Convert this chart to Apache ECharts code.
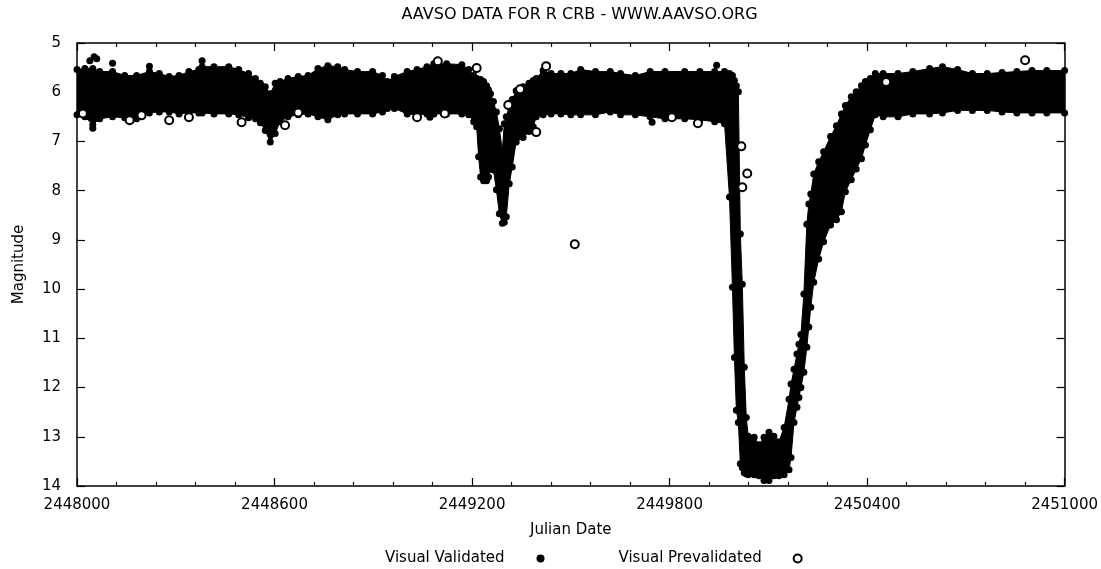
<!DOCTYPE html>
<html><head><meta charset="utf-8">
<script src="https://cdn.jsdelivr.net/npm/echarts@6/dist/echarts.min.js"></script>
<style>html,body{margin:0;padding:0;background:#fff}#c{width:1101px;height:569px}</style>
</head><body><div id="c"></div>
<script>
const chartTitle = 'AAVSO DATA FOR R CRB - WWW.AAVSO.ORG';
const xName = 'Julian Date';
const yName = 'Magnitude';
const seriesNames = ['Visual Validated', 'Visual Prevalidated'];
const xMin = 2448000, xMax = 2451000, xStep = 600;
const yMin = 5, yMax = 14, yStep = 1;

// Envelope of the dense observation cloud: Julian date, brightest and faintest magnitude seen
const bandJD = [
  2448000, 2448024, 2448048, 2448069, 2448108, 2448145, 2448181, 2448220, 2448250, 2448280,
  2448310, 2448340, 2448370, 2448380, 2448416, 2448461, 2448491, 2448521, 2448542, 2448557,
  2448572, 2448587, 2448602, 2448617, 2448641, 2448672, 2448702, 2448732, 2448762, 2448792,
  2448813, 2448852, 2448898, 2448928, 2448943, 2448964, 2449003, 2449033, 2449063, 2449084,
  2449123, 2449169, 2449190, 2449205, 2449214, 2449220, 2449226, 2449235, 2449244, 2449250,
  2449256, 2449265, 2449274, 2449283, 2449292, 2449298, 2449304, 2449313, 2449322, 2449334,
  2449355, 2449373, 2449386, 2449395, 2449416, 2449440, 2449470, 2449500, 2449530, 2449575,
  2449620, 2449651, 2449696, 2449741, 2449786, 2449846, 2449892, 2449937, 2449967, 2449982,
  2449991, 2449997, 2450003, 2450009, 2450015, 2450021, 2450027, 2450033, 2450039, 2450057,
  2450072, 2450087, 2450102, 2450117, 2450132, 2450148, 2450163, 2450169, 2450178, 2450187,
  2450193, 2450199, 2450208, 2450217, 2450223, 2450229, 2450238, 2450253, 2450268, 2450289,
  2450307, 2450322, 2450334, 2450352, 2450367, 2450383, 2450395, 2450410, 2450425, 2450449,
  2450494, 2450539, 2450590, 2450629, 2450675, 2450720, 2450765, 2450810, 2450855, 2450901,
  2450946, 2451000
];
const bandBright = [
  5.54, 5.52, 5.52, 5.58, 5.58, 5.66, 5.66, 5.58, 5.62, 5.68,
  5.66, 5.58, 5.54, 5.48, 5.48, 5.48, 5.54, 5.62, 5.72, 5.82,
  5.89, 6.03, 5.82, 5.78, 5.72, 5.68, 5.66, 5.52, 5.46, 5.48,
  5.54, 5.58, 5.58, 5.66, 5.78, 5.68, 5.58, 5.54, 5.48, 5.42,
  5.42, 5.44, 5.54, 5.66, 5.72, 5.74, 5.74, 5.78, 5.87, 5.95,
  6.03, 6.19, 6.40, 6.74, 7.19, 6.64, 6.50, 6.29, 6.15, 5.97,
  5.89, 5.82, 5.76, 5.72, 5.56, 5.62, 5.62, 5.62, 5.54, 5.58,
  5.58, 5.62, 5.66, 5.58, 5.58, 5.58, 5.58, 5.58, 5.58, 5.62,
  5.66, 5.76, 5.87, 5.99, 8.88, 9.90, 11.59, 12.61, 12.99, 13.01,
  13.16, 13.01, 12.91, 12.99, 13.10, 12.81, 12.24, 11.93, 11.63, 11.32,
  11.12, 10.92, 10.10, 8.68, 8.27, 8.07, 7.66, 7.41, 7.21, 6.90,
  6.68, 6.44, 6.27, 6.09, 5.99, 5.87, 5.78, 5.72, 5.62, 5.62,
  5.62, 5.58, 5.52, 5.48, 5.54, 5.62, 5.62, 5.60, 5.58, 5.56,
  5.56, 5.56
];
const bandFaint = [
  6.46, 6.50, 6.66, 6.54, 6.50, 6.52, 6.54, 6.42, 6.40, 6.40,
  6.44, 6.42, 6.42, 6.42, 6.44, 6.44, 6.46, 6.52, 6.54, 6.62,
  6.78, 7.01, 6.84, 6.60, 6.50, 6.46, 6.44, 6.50, 6.56, 6.46,
  6.44, 6.44, 6.44, 6.40, 6.33, 6.33, 6.44, 6.46, 6.44, 6.44,
  6.44, 6.44, 6.46, 6.60, 6.70, 7.31, 7.72, 7.80, 7.80, 7.72,
  7.56, 7.58, 7.98, 8.47, 8.66, 8.64, 8.53, 7.86, 7.52, 7.01,
  6.92, 6.80, 6.70, 6.50, 6.46, 6.44, 6.44, 6.46, 6.46, 6.46,
  6.40, 6.46, 6.46, 6.50, 6.54, 6.54, 6.56, 6.60, 6.64, 8.13,
  9.96, 11.39, 12.46, 12.71, 13.55, 13.63, 13.73, 13.75, 13.77, 13.77,
  13.79, 13.89, 13.89, 13.79, 13.79, 13.77, 13.67, 13.42, 12.71, 12.40,
  12.20, 12.00, 11.69, 11.18, 10.77, 10.37, 9.86, 9.39, 9.04, 8.70,
  8.59, 8.43, 8.02, 7.78, 7.56, 7.35, 7.07, 6.76, 6.46, 6.50,
  6.50, 6.44, 6.44, 6.42, 6.37, 6.37, 6.37, 6.40, 6.42, 6.42,
  6.42, 6.42
];
// Isolated validated observations standing out of the cloud
const validatedJD  = [2448039, 2448052, 2448060, 2448108, 2448220, 2448380, 2448048, 2449072, 2449747, 2449943];
const validatedMag = [5.36,    5.28,    5.32,    5.41,    5.47,    5.36,    6.73,    6.51,    6.61,    5.45];
// Prevalidated observations
const prevalJD  = [2449096, 2449214, 2449310, 2449346, 2449425, 2449512, 2450018, 2450036, 2450021,
                   2448018, 2448160, 2448196, 2448280, 2448340, 2448500, 2448632, 2448672,
                   2449033, 2449117, 2449395, 2449807, 2449886, 2450458, 2450880];
const prevalMag = [5.37,    5.51,    6.26,    5.94,    5.47,    9.09,    7.10,    7.65,    7.93,
                   6.43,    6.57,    6.47,    6.57,    6.51,    6.61,    6.67,    6.41,
                   6.51,    6.43,    6.81,    6.51,    6.63,    5.79,    5.35];

const FONT = 'DejaVu Sans';
const chart = echarts.init(document.getElementById('c'), null, {renderer: 'canvas'});

const validatedData = [];
for (let i = 0; i < bandJD.length; i++) {
  validatedData.push([bandJD[i], bandBright[i]]);
  validatedData.push([bandJD[i], bandFaint[i]]);
}
for (let i = 0; i < validatedJD.length; i++) validatedData.push([validatedJD[i], validatedMag[i]]);
const prevalData = prevalJD.map((d, i) => [d, prevalMag[i]]);

const tickStyle = {color: '#000', width: 1.2};
function xAxisDef(pos, labels) {
  return {
    type: 'value', position: pos, min: xMin, max: xMax, interval: xStep,
    axisLine: {show: true, onZero: false, lineStyle: {color: '#000', width: 1.5}},
    axisTick: {show: true, inside: true, length: 8, lineStyle: tickStyle},
    minorTick: {show: true, splitNumber: 5, length: 4, lineStyle: tickStyle},
    splitLine: {show: false},
    axisLabel: {show: labels, color: '#000', fontSize: 15, fontFamily: FONT, margin: 12,
      showMinLabel: true, showMaxLabel: true, formatter: v => String(v)},
    name: labels ? xName : '', nameLocation: 'middle', nameGap: 37,
    nameTextStyle: {color: '#000', fontSize: 15, fontFamily: FONT}
  };
}
function yAxisDef(pos, labels) {
  return {
    type: 'value', position: pos, inverse: true, min: yMin, max: yMax, interval: yStep,
    axisLine: {show: true, onZero: false, lineStyle: {color: '#000', width: 1.5}},
    axisTick: {show: true, inside: true, length: 8, lineStyle: tickStyle},
    splitLine: {show: false},
    axisLabel: {show: labels, color: '#000', fontSize: 15, fontFamily: FONT, margin: 16, formatter: v => String(v)},
    name: labels ? yName : '', nameLocation: 'middle', nameGap: 50, nameRotate: 90,
    nameTextStyle: {color: '#000', fontSize: 15, fontFamily: FONT}
  };
}

chart.setOption({
  animation: false,
  backgroundColor: '#fff',
  title: {text: chartTitle, left: 574.5, textAlign: 'center', top: 2,
    textStyle: {color: '#000', fontSize: 16, fontWeight: 'normal', fontFamily: FONT}},
  grid: {left: 77, right: 29, top: 43, bottom: 83, containLabel: false},
  legend: {
    data: seriesNames, left: 380, top: 546, align: 'right',
    itemWidth: 62, itemHeight: 8, itemGap: 74,
    textStyle: {color: '#000', fontSize: 15, fontFamily: FONT}
  },
  xAxis: [xAxisDef('bottom', true), xAxisDef('top', false)],
  yAxis: [yAxisDef('left', true), yAxisDef('right', false)],
  series: [
    {
      type: 'custom', name: 'cloud', xAxisIndex: 0, yAxisIndex: 0, silent: true, clip: true, z: 1,
      data: [[bandJD[0], bandBright[0]]],
      renderItem: function (params, api) {
        const pts = [];
        for (let i = 0; i < bandJD.length; i++) pts.push(api.coord([bandJD[i], bandBright[i]]));
        for (let i = bandJD.length - 1; i >= 0; i--) pts.push(api.coord([bandJD[i], bandFaint[i]]));
        return {type: 'polygon', shape: {points: pts}, style: {fill: '#000', stroke: '#000', lineWidth: 1}};
      }
    },
    {
      type: 'scatter', name: seriesNames[0], xAxisIndex: 0, yAxisIndex: 0, z: 2,
      symbol: 'circle', symbolSize: 7, itemStyle: {color: '#000', opacity: 1},
      data: validatedData, clip: true
    },
    {
      type: 'scatter', name: seriesNames[1], xAxisIndex: 0, yAxisIndex: 0, z: 3,
      symbol: 'emptyCircle', symbolSize: 8, itemStyle: {color: '#000', borderColor: '#000', borderWidth: 3, opacity: 1},
      data: prevalData, clip: true
    }
  ]
});
</script>
</body></html>
